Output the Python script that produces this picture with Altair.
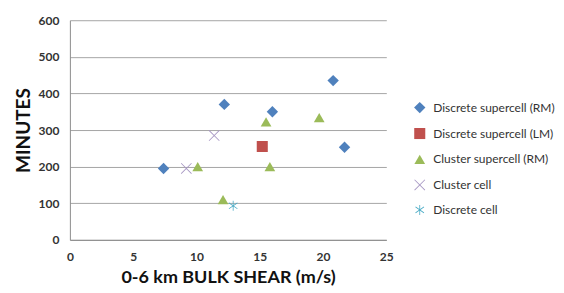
import altair as alt
import pandas as pd

# ---- data ----
series = (["Discrete supercell (RM)"] * 5 + ["Discrete supercell (LM)"]
          + ["Cluster supercell (RM)"] * 5 + ["Cluster cell"] * 2 + ["Discrete cell"])
shear = [7.4, 12.2, 16.0, 20.8, 21.7,
         15.2,
         15.5, 19.7, 10.1, 15.8, 12.1,
         11.4, 9.2,
         12.9]
minutes = [195, 370, 350, 435, 253,
           255,
           322, 334, 200, 200, 110,
           285, 195,
           93]

categories = ["Discrete supercell (RM)", "Discrete supercell (LM)",
              "Cluster supercell (RM)", "Cluster cell", "Discrete cell"]
colors = ["#4F81BD", "#C0504D", "#9BBB59", "#A898C4", "#4BACC6"]
sizes = [130, 100, 170, 130, 160]


def strip(p1, p2, t):
    dx, dy = p2[0] - p1[0], p2[1] - p1[1]
    ln = (dx * dx + dy * dy) ** 0.5
    nx, ny = -dy / ln * t, dx / ln * t
    pts = [(p1[0] + nx, p1[1] + ny), (p2[0] + nx, p2[1] + ny),
           (p2[0] - nx, p2[1] - ny), (p1[0] - nx, p1[1] - ny)]
    return "M" + "L".join(f"{x:.3f},{y:.3f}" for x, y in pts) + "Z"


x_shape = strip((-1, -1), (1, 1), 0.08) + strip((-1, 1), (1, -1), 0.08)
star_shape = (strip((0, -1), (0, 1), 0.08) + strip((-0.85, -0.6), (0.85, 0.6), 0.08)
              + strip((-0.85, 0.6), (0.85, -0.6), 0.08))
shapes = ["diamond", "square", "triangle-up", x_shape, star_shape]

df = pd.DataFrame({"series": series, "shear": shear, "minutes": minutes})

FONT = "Lato"

chart = alt.Chart(df).mark_point(filled=True, opacity=1).encode(
    x=alt.X("shear:Q", title="0-6 km BULK SHEAR (m/s)",
            scale=alt.Scale(domain=[0, 25], nice=False),
            axis=alt.Axis(values=[0, 5, 10, 15, 20, 25], grid=False, ticks=False,
                          labelFlush=False, labelPadding=12, titlePadding=6)),
    y=alt.Y("minutes:Q", title="MINUTES",
            scale=alt.Scale(domain=[0, 600], nice=False),
            axis=alt.Axis(values=[0, 100, 200, 300, 400, 500, 600], grid=True, ticks=False,
                          labelFlush=False, labelPadding=11, titlePadding=5)),
    color=alt.Color("series:N", scale=alt.Scale(domain=categories, range=colors),
                    legend=alt.Legend(title=None, orient="none", legendX=344, legendY=81,
                                      symbolSize=80, labelOffset=7, rowPadding=13,
                                      padding=0, labelFontSize=12, labelFont=FONT,
                                      labelColor="#333333", labelLimit=300)),
    shape=alt.Shape("series:N", scale=alt.Scale(domain=categories, range=shapes)),
    size=alt.Size("series:N", scale=alt.Scale(domain=categories, range=sizes), legend=None),
).properties(
    width=317, height=220,
    autosize=alt.AutoSizeParams(type="none"),
    padding={"left": 62, "top": 12, "right": 170, "bottom": 50},
).configure_view(stroke=None).configure_axis(
    labelFont=FONT, labelFontSize=12, labelFontWeight="bold", labelColor="#333333",
    titleFont=FONT, titleFontSize=18, titleFontWeight="bold", titleColor="#111111",
    domainColor="#8C8C8C", gridColor="#A6A6A6", gridWidth=1,
).configure_axisY(domain=True, titleFontSize=19)

chart.save("out.html", embed_options={"renderer": "svg", "actions": False})
